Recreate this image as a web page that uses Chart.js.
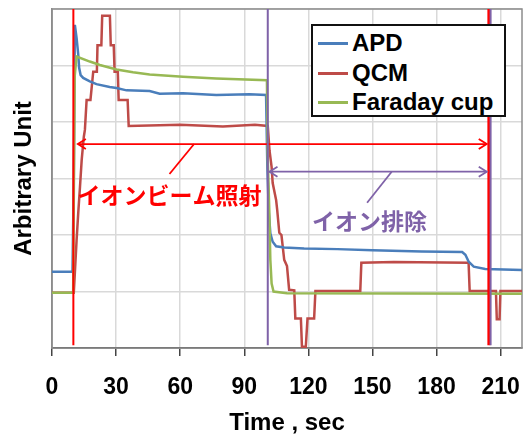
<!DOCTYPE html>
<html><head><meta charset="utf-8">
<script src="https://cdn.jsdelivr.net/npm/chart.js@4.4.0/dist/chart.umd.min.js"></script>
<style>
html,body{margin:0;padding:0;background:#fff;}
#wrap{position:relative;width:529px;height:435px;}
#legend{position:absolute;left:311px;top:24px;width:191px;height:89px;border:2px solid #111;background:#fff;font:bold 24px "Liberation Sans",Arial,sans-serif;color:#000;}
.row{position:absolute;left:5px;height:30px;display:flex;align-items:center;white-space:nowrap;}
.sw{width:30px;height:3px;margin-right:4px;}
</style></head>
<body>
<div id="wrap"><canvas id="c"></canvas>
<div id="legend">
  <div class="row" style="top:2px"><span class="sw" style="background:#4a7ebb"></span>APD</div>
  <div class="row" style="top:32px"><span class="sw" style="background:#be4b48"></span>QCM</div>
  <div class="row" style="top:61px"><span class="sw" style="background:#98b954"></span>Faraday cup</div>
</div></div>
<script>
// time (sec) / arbitrary unit
const apdT=[0,9.6,10.2,10.7,11.5,12.3,12.7,13.4,14.6,17.7,20.8,27,30.2,34.9,45.7,50.4,61.3,76.9,92.4,100.2,100.8,101.5,102.2,103.3,104.9,108.7,118,133.6,150,173,192,193.5,195,197.4,202.8,220];
const apdV=[1.35,1.35,3.0,5.72,5.49,5.19,4.96,4.83,4.78,4.72,4.67,4.62,4.6,4.56,4.55,4.5,4.51,4.48,4.49,4.48,3.2,2.4,2.03,1.88,1.8,1.78,1.76,1.75,1.73,1.71,1.7,1.65,1.53,1.44,1.4,1.38];
const qcmT=[0,10.2,11.5,12.3,13.1,13.9,14.9,15.4,16.2,18,19.3,21,21.3,23.1,23.5,27.1,27.5,28.9,29.3,30.8,31.2,35.4,35.9,60,80,95,101,101.8,102.8,103.3,104.9,105.4,106.4,107.4,108.7,110,111,113.4,113.9,116.5,117,118.8,119.6,122.7,123.3,144.3,144.8,160,195,195.5,207.8,208.2,209.5,209.9,220];
const qcmV=[0.98,0.98,1.9,2.4,2.85,3.33,3.74,3.86,4.39,4.39,4.89,4.89,5.36,5.36,5.88,5.88,5.36,5.36,4.89,4.89,4.39,4.39,3.93,3.95,3.92,3.95,3.93,3.5,3.2,2.92,2.62,2.45,2.04,2.0,1.56,1.45,1.03,1.02,0.52,0.52,0.02,0.02,0.52,0.52,1.01,1.01,1.51,1.52,1.51,1.01,1.01,0.51,0.51,1.01,1.01];
const fcT=[0,9.9,10.6,11.5,17.7,22.4,30.2,37.9,45.7,61.3,76.9,100.6,100.9,101.7,102.2,102.8,103.7,110,220];
const fcV=[0.98,0.98,4.8,5.16,5.07,5.01,4.93,4.88,4.84,4.80,4.77,4.74,3.5,2.44,1.56,1.14,1.0,0.97,0.96];
// annotation marks (data units)
const beamLineT=[10,204.5];
const purgeLineT=[101,205.3];
const beamArrow=[12.1,203.5], beamArrowY=3.61;
const purgeArrow=[101.8,203.5], purgeArrowY=3.12;
const beamLeader=[{x:66.5,y:3.61},{x:55,y:3.08}];
const purgeLeader=[{x:159,y:3.12},{x:147.5,y:2.57}];
const beamLabel={x:55,y:2.71,text:"イオンビーム照射"};
const purgeLabel={x:148.6,y:2.24,text:"イオン排除"};

const RED="#ff0000",PURPLE="#7f62a8";
const pts=(t,v)=>t.map((x,i)=>({x,y:v[i]}));
const vline=(t,w,color)=>({data:[{x:t,y:0.05},{x:t,y:6}],borderColor:color,borderWidth:w,order:-1});
const seg=(data,color)=>({data,borderColor:color,borderWidth:1.8,order:-1});

const frame={id:"frame",beforeDatasetsDraw(ch){
  const a=ch.chartArea,c=ch.ctx;c.save();c.strokeStyle="#8c8c8c";c.lineWidth=1.5;
  c.strokeRect(a.left,a.top,a.right-a.left,a.bottom-a.top);c.restore();}};

function head(c,x,y,dir){c.beginPath();c.moveTo(x+dir*8,y-5);c.lineTo(x,y);c.lineTo(x+dir*8,y+5);c.stroke();}
const notes={id:"notes",afterDatasetsDraw(ch){
  const c=ch.ctx,xs=ch.scales.x,ys=ch.scales.y;c.save();c.lineWidth=1.8;
  c.strokeStyle=RED;
  head(c,xs.getPixelForValue(beamArrow[0]),ys.getPixelForValue(beamArrowY),1);
  head(c,xs.getPixelForValue(beamArrow[1]),ys.getPixelForValue(beamArrowY),-1);
  c.strokeStyle=PURPLE;
  head(c,xs.getPixelForValue(purgeArrow[0]),ys.getPixelForValue(purgeArrowY),1);
  head(c,xs.getPixelForValue(purgeArrow[1]),ys.getPixelForValue(purgeArrowY),-1);
  c.font="bold 23px 'Noto Sans CJK JP'";c.textAlign="center";c.textBaseline="middle";
  c.fillStyle=RED;c.fillText(beamLabel.text,xs.getPixelForValue(beamLabel.x),ys.getPixelForValue(beamLabel.y));
  c.fillStyle=PURPLE;c.fillText(purgeLabel.text,xs.getPixelForValue(purgeLabel.x),ys.getPixelForValue(purgeLabel.y));
  c.restore();}};

const FONT="'Liberation Sans',Arial,sans-serif";
new Chart(document.getElementById("c"),{type:"line",
  data:{datasets:[
    vline(beamLineT[0],2,RED),vline(purgeLineT[0],2,PURPLE),
    vline(purgeLineT[1],2,PURPLE),vline(beamLineT[1],3,RED),
    seg([{x:beamArrow[0],y:beamArrowY},{x:beamArrow[1],y:beamArrowY}],RED),
    seg([{x:purgeArrow[0],y:purgeArrowY},{x:purgeArrow[1],y:purgeArrowY}],PURPLE),
    seg(beamLeader,RED),seg(purgeLeader,PURPLE),
    {label:"Faraday cup",data:pts(fcT,fcV),borderColor:"#98b954",borderWidth:2.5,order:1},
    {label:"APD",data:pts(apdT,apdV),borderColor:"#4a7ebb",borderWidth:2.5,order:2},
    {label:"QCM",data:pts(qcmT,qcmV),borderColor:"#be4b48",borderWidth:2.5,order:3},
  ]},
  options:{responsive:true,maintainAspectRatio:false,animation:false,
    layout:{padding:{top:9,right:7,left:0,bottom:0}},
    elements:{point:{radius:0},line:{tension:0,fill:false}},
    plugins:{legend:{display:false},tooltip:{enabled:false}},
    scales:{
      x:{type:"linear",min:0,max:220,afterFit:s=>{s.height=87;s.paddingLeft=0;s.paddingRight=0;},
        ticks:{stepSize:30,includeBounds:false,maxRotation:0,padding:18,color:"#000",font:{family:FONT,size:23,weight:"bold"}},
        grid:{color:"#d9d9d9",lineWidth:1.5,tickLength:8,tickColor:"#444",tickWidth:1.5},
        border:{color:"#444",width:1.5},
        title:{display:true,text:"Time , sec",color:"#000",font:{family:FONT,size:24,weight:"bold",lineHeight:1},padding:{top:0,bottom:0}}},
      y:{min:0,max:6,afterFit:s=>{s.width=52;},
        ticks:{display:false,stepSize:1},
        grid:{color:"#d9d9d9",lineWidth:1.5,drawTicks:false},
        border:{color:"#8c8c8c",width:1.5},
        title:{display:true,text:"Arbitrary Unit",color:"#000",font:{family:FONT,size:24,weight:"bold"},padding:{top:10,bottom:0}}}
    }},
  plugins:[frame,notes]});
</script>
</body></html>
